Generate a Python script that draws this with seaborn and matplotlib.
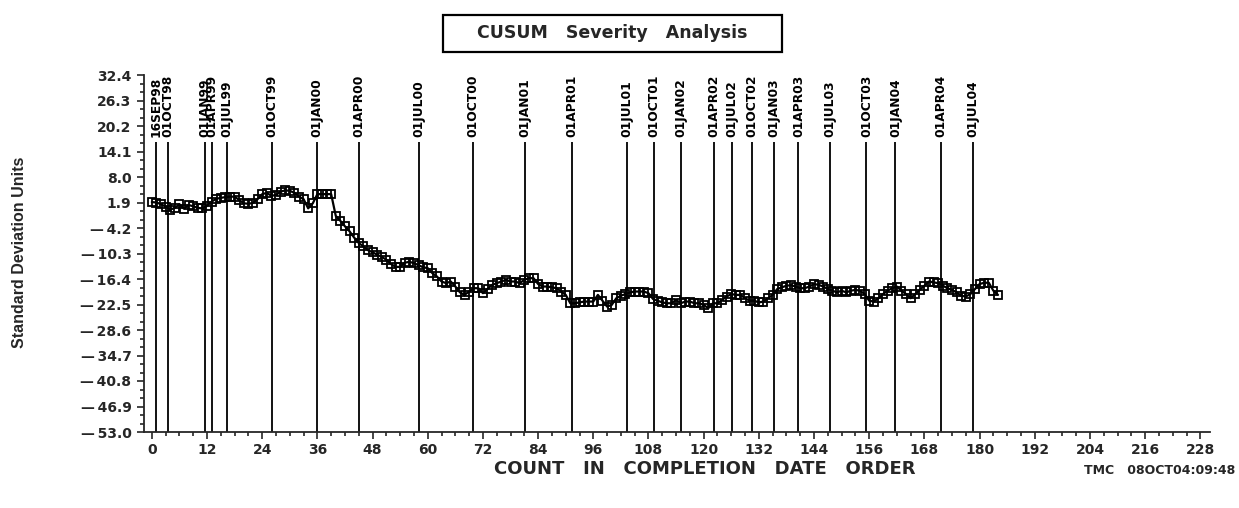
import matplotlib
matplotlib.use("Agg")
import matplotlib.pyplot as plt
import matplotlib.patches as patches
from matplotlib import font_manager
from matplotlib.ticker import FixedLocator, MultipleLocator
import numpy as np
import pandas as pd
import seaborn as sns

# CUSUM values, one per completed item (count 0..184)
cusum = [
    2.0, 1.9, 1.5, 0.9, 0.2, 0.6, 1.5, 0.4, 1.3, 1.0,
    0.6, 0.5, 1.1, 2.1, 2.8, 3.0, 3.2, 3.3, 3.3, 2.5,
    1.7, 1.6, 1.8, 2.7, 3.9, 4.2, 3.5, 3.7, 4.5, 4.8,
    4.7, 4.2, 3.3, 2.7, 0.5, 1.7, 3.9, 3.9, 3.9, 3.9,
    -1.3, -2.5, -3.8, -5.0, -6.5, -7.8, -8.6, -9.5, -10.0, -10.6,
    -11.1, -11.8, -12.8, -13.5, -13.5, -12.5, -12.3, -12.6, -13.1, -13.6,
    -13.8, -15.0, -15.8, -17.0, -17.4, -17.0, -18.2, -19.6, -20.2, -19.4,
    -18.6, -18.6, -19.8, -18.8, -17.8, -17.4, -17.0, -16.6, -17.0, -17.0,
    -17.4, -16.6, -16.2, -16.2, -17.6, -18.2, -18.2, -18.4, -18.6, -19.4,
    -20.2, -22.2, -22.2, -22.0, -21.8, -21.8, -21.8, -20.2, -21.6, -23.0,
    -22.6, -21.0, -20.4, -20.0, -19.6, -19.4, -19.4, -19.4, -19.8, -21.2,
    -21.6, -22.0, -22.2, -22.2, -21.4, -22.2, -21.8, -21.8, -22.2, -22.2,
    -22.6, -23.4, -22.2, -22.2, -21.4, -20.6, -20.0, -20.2, -20.2, -21.0,
    -21.6, -21.6, -22.0, -21.8, -21.0, -20.2, -18.8, -18.4, -18.0, -17.9,
    -18.2, -18.6, -18.6, -18.2, -17.6, -17.8, -18.2, -18.8, -19.2, -19.6,
    -19.2, -19.6, -19.2, -19.0, -19.2, -20.0, -21.6, -21.8, -21.0, -20.0,
    -19.2, -18.6, -18.2, -19.2, -20.0, -21.0, -20.0, -19.0, -18.0, -17.0,
    -17.2, -17.4, -18.0, -18.6, -19.0, -19.6, -20.4, -20.6, -20.0, -18.8,
    -17.6, -17.3, -17.3, -19.2, -20.2,
]
count = list(range(len(cusum)))

# reference dates and the count where each one falls
ref_dates = ["16SEP98", "01OCT98", "01JAN99", "01APR99", "01JUL99", "01OCT99",
             "01JAN00", "01APR00", "01JUL00", "01OCT00", "01JAN01", "01APR01",
             "01JUL01", "01OCT01", "01JAN02", "01APR02", "01JUL02", "01OCT02",
             "01JAN03", "01APR03", "01JUL03", "01OCT03", "01JAN04", "01APR04",
             "01JUL04"]
ref_counts = [0.9, 3.5, 11.6, 13.0, 16.3, 26.1, 35.9, 45.1, 58.0, 69.9, 81.2,
              91.3, 103.3, 109.2, 115.1, 122.2, 126.2, 130.5, 135.3, 140.6,
              147.5, 155.4, 161.7, 171.6, 178.6]

y_ticks = [32.4, 26.3, 20.2, 14.1, 8.0, 1.9, -4.2, -10.3, -16.4, -22.5,
           -28.6, -34.7, -40.8, -46.9, -53.0]

title = "CUSUM   Severity   Analysis"
x_title = "COUNT   IN   COMPLETION   DATE   ORDER"
y_title = "Standard Deviation Units"
stamp = "TMC   08OCT04:09:48"

sns.set_style("ticks")
plt.rcParams["font.family"] = ["DejaVu Sans"]
plt.rcParams["font.weight"] = "bold"

names = {f.name for f in font_manager.fontManager.ttflist}
narrow = "Liberation Sans Narrow" if "Liberation Sans Narrow" in names else "Liberation Sans"

df = pd.DataFrame({"count": count, "cusum": cusum})

fig = plt.figure(figsize=(12.39, 5.08), dpi=100)
ax = fig.add_axes([144 / 1239, 1 - 432 / 508, 1066 / 1239, 357 / 508])

# reference date lines
ax.vlines(ref_counts, y_ticks[-1], 16.4, color="black", linewidth=1.3, zorder=1)
for xd, lab in zip(ref_counts, ref_dates):
    ax.text(xd, 17.6, lab, rotation=90, ha="center", va="bottom",
            fontsize=8.8, fontweight="bold", color="black")

sns.lineplot(data=df, x="count", y="cusum", ax=ax, color="black",
             linewidth=1.6, marker="s", markersize=6.2,
             markerfacecolor="none", markeredgecolor="black",
             markeredgewidth=1.3, zorder=3)

ax.set_xlim(-1.7, 230.1)
ax.set_ylim(y_ticks[-1], y_ticks[0])
ax.xaxis.set_major_locator(MultipleLocator(12))
ax.xaxis.set_minor_locator(MultipleLocator(3))
ax.yaxis.set_major_locator(FixedLocator(y_ticks))
ax.yaxis.set_minor_locator(FixedLocator(np.arange(-53.0, 32.5, 6.1 / 3)))
ax.set_yticklabels([f"{v:.1f}" if v >= 0 else "\u2014\u2009" + f"{-v:.1f}" for v in y_ticks])
ax.set_xlabel("")
ax.set_ylabel("")

for lab in ax.get_xticklabels() + ax.get_yticklabels():
    lab.set_fontweight("bold")
ax.tick_params(axis="both", which="major", direction="out", length=5,
               width=1.2, labelsize=10, pad=3)
ax.tick_params(axis="y", which="major", pad=4)
ax.tick_params(axis="both", which="minor", direction="out", length=3, width=1.2)
sns.despine(ax=ax)
for s in ["left", "bottom"]:
    ax.spines[s].set_linewidth(1.3)
ax.grid(False)

# title box
fig.patches.append(patches.Rectangle((443 / 1239, 1 - 52 / 508), 339 / 1239, 37 / 508,
                                     transform=fig.transFigure, fill=False,
                                     edgecolor="black", linewidth=1.6))
fig.text(612.5 / 1239, 1 - 33.5 / 508, title, ha="center", va="center",
         fontsize=12.5, fontweight="bold")

fig.text(705 / 1239, 1 - 469 / 508, x_title, ha="center", va="center",
         fontsize=13, fontweight="bold")
fig.text(20 / 1239, 1 - 252 / 508, y_title, rotation=90, ha="center", va="center",
         fontsize=11.5, fontweight="bold", family=narrow)
fig.text(1235 / 1239, 1 - 470 / 508, stamp, ha="right", va="center",
         fontsize=9, fontweight="bold")

fig.savefig("out.png", dpi=100)
